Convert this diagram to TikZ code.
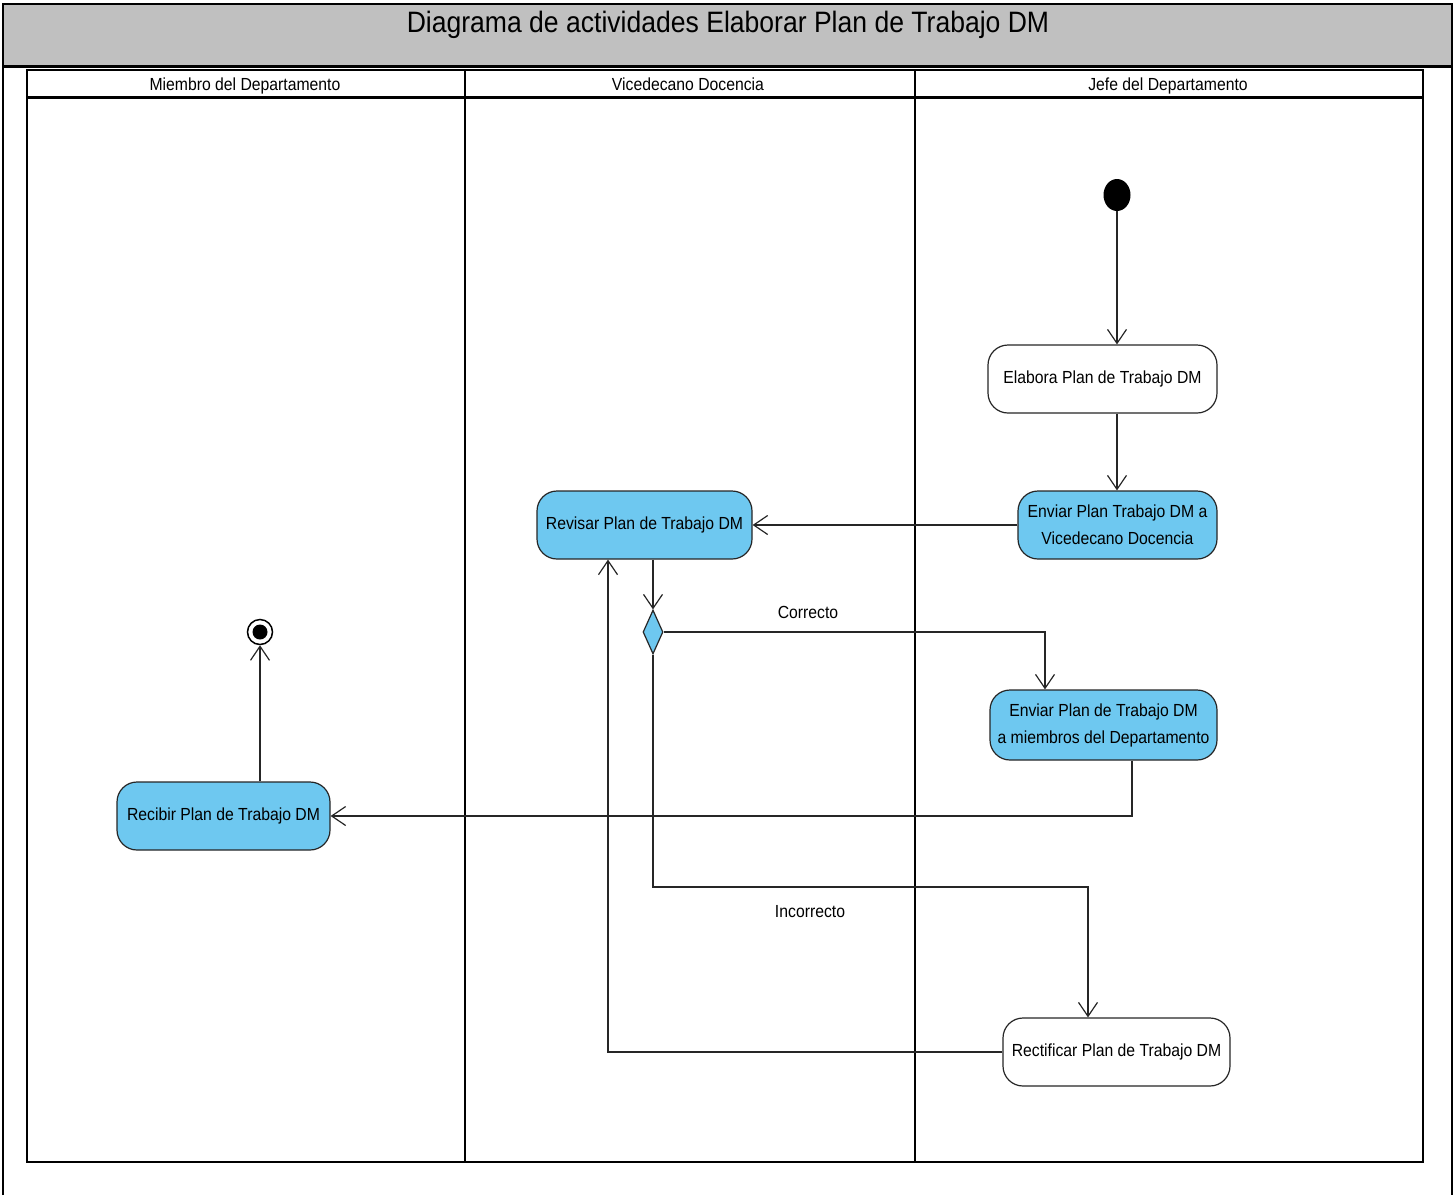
\documentclass[tikz,border=0pt]{standalone}
\usepackage{fontspec}
\setmainfont{Liberation Sans}
\newfontfamily\narrowfont[FakeStretch=0.9]{Liberation Sans}
\usetikzlibrary{arrows.meta,shapes.geometric,calc}
\definecolor{actblue}{RGB}{110,200,240}
\definecolor{headgray}{RGB}{192,192,192}
\tikzset{
  act/.style={draw=black!85, line width=1.2pt, rounded corners=20pt, align=center,
     font=\narrowfont\fontsize{17.5}{27}\selectfont, inner sep=2pt},
  actb/.style={act, fill=actblue},
  actw/.style={act, fill=white},
  flow/.style={draw=black!85, line width=1.2pt, -{Straight Barb[length=14pt,width=19pt,line width=1.2pt]}},
  lbl/.style={font=\narrowfont\fontsize{17.5}{20}\selectfont},
  lanehead/.style={font=\narrowfont\fontsize{17.5}{20}\selectfont, anchor=base},
}
\begin{document}
\begin{tikzpicture}[x=1pt,y=-1pt]
\useasboundingbox (0,0) rectangle (1456,1195);
% outer frame and title band
\fill[headgray] (3,4) rectangle (1452,66);
\draw[line width=1.5pt] (3,1195) -- (3,4) -- (1452,4) -- (1452,1195);
\draw[line width=3pt] (3,66) -- (1452,66);
\node[font=\narrowfont\fontsize{29.5}{34}\selectfont] (title) at (728,25) {Diagrama de actividades Elaborar Plan de Trabajo DM};
% swimlanes
\draw[line width=2.5pt] (27,70) rectangle (1423,1162);
\draw[line width=3pt] (27,97) -- (1423,97);
\draw[line width=2.5pt] (465,70) -- (465,1162);
\draw[line width=2.5pt] (915,70) -- (915,1162);
\node[lanehead] (l1) at (245,90) {Miembro del Departamento};
\node[lanehead] (l2) at (688,90) {Vicedecano Docencia};
\node[lanehead] (l3) at (1168,90) {Jefe del Departamento};
% nodes
\node[ellipse, fill=black, minimum width=27pt, minimum height=32pt, inner sep=0pt] (start) at (1117,195) {};
\node[actw, minimum width=229pt, minimum height=68pt] (elab) at (1102.5,379) {Elabora Plan de Trabajo DM};
\node[actb, minimum width=199pt, minimum height=68pt] (env1) at (1117.5,525) {Enviar Plan Trabajo DM a\\Vicedecano Docencia};
\node[actb, minimum width=215pt, minimum height=68pt] (rev) at (644.5,525) {Revisar Plan de Trabajo DM};
\node[diamond, draw=black!85, line width=1.2pt, fill=actblue, minimum width=20pt, minimum height=44pt, inner sep=0pt] (dec) at (653,632) {};
\node[actb, minimum width=227pt, minimum height=70pt] (env2) at (1103.5,725) {Enviar Plan de Trabajo DM\\a miembros del Departamento};
\node[actb, minimum width=213pt, minimum height=68pt] (rec) at (223.5,816) {Recibir Plan de Trabajo DM};
\node[actw, minimum width=227pt, minimum height=68pt] (rect) at (1116.5,1052) {Rectificar Plan de Trabajo DM};
\node[circle, draw=black, line width=1.5pt, fill=white, minimum size=25pt, inner sep=0pt] (fin) at (260,632) {};
\node[circle, fill=black, minimum size=15pt, inner sep=0pt] (finin) at (fin) {};
\node[lbl] (ok) at (808,612) {Correcto};
\node[lbl] (ko) at (810,912) {Incorrecto};
% connectors
\draw[flow] (start) -- (start |- elab.north);
\draw[flow] ([xshift=14.5pt]elab.south) -- ([xshift=14.5pt]elab.south |- env1.north);
\draw[flow] (env1.west) -- (rev.east);
\draw[flow] ([xshift=8.5pt]rev.south) -- (dec.north);
\draw[flow] (dec.east) -| ([xshift=-58.5pt]env2.north);
\draw[flow] (dec.south) |- (1088,887) -- ([xshift=-28.5pt]rect.north);
\draw[flow] (rect.west) -| ([xshift=-36.5pt]rev.south);
\draw[flow] ([xshift=28.5pt]env2.south) |- (rec.east);
\draw[flow] ([xshift=36.5pt]rec.north) -- (fin.south);
\end{tikzpicture}
\end{document}
